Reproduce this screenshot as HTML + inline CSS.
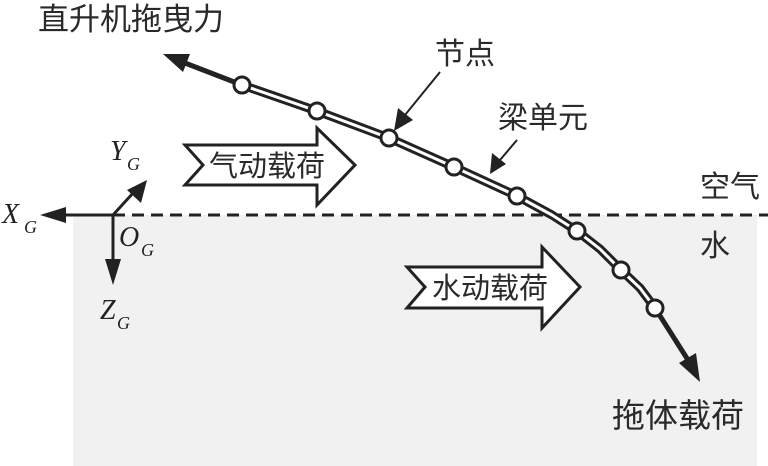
<!DOCTYPE html>
<html><head><meta charset="utf-8"><style>
html,body{margin:0;padding:0;background:#fff;}
svg{display:block;}
.cn{font-family:"Liberation Sans","Noto Sans CJK SC",sans-serif;fill:#2a2a2a;}
.it{font-family:"Liberation Serif",serif;font-style:italic;fill:#222;}
</style></head><body>
<svg width="768" height="466" viewBox="0 0 768 466" xmlns="http://www.w3.org/2000/svg">
<rect x="73" y="215" width="684" height="251" fill="#f1f1f1"/>
<line x1="113" y1="215" x2="768" y2="215" stroke="#222" stroke-width="3" stroke-dasharray="12,7"/>
<line x1="113" y1="215" x2="62" y2="215" stroke="#222" stroke-width="3"/>
<polygon points="40,215 66,207 66,223" fill="#222"/>
<line x1="113" y1="215" x2="134" y2="192" stroke="#222" stroke-width="3"/>
<polygon points="147,180 141,203 127,190" fill="#222"/>
<line x1="113" y1="215" x2="113" y2="262" stroke="#222" stroke-width="3"/>
<polygon points="113,285 105,259 121,259" fill="#222"/>
<text class="it" x="110" y="160" font-size="28">Y</text><text class="it" x="127" y="170" font-size="18">G</text>
<text class="it" x="2" y="223" font-size="28">X</text><text class="it" x="24" y="233" font-size="18">G</text>
<text class="it" x="119" y="246" font-size="28">O</text><text class="it" x="141" y="256" font-size="18">G</text>
<text class="it" x="100" y="319" font-size="28">Z</text><text class="it" x="117" y="329" font-size="18">G</text>
<polygon points="185,145 317,145 317,128 355,165 317,205 317,185 185,185 203,165" fill="#fff" stroke="#222" stroke-width="3"/>
<text class="cn" x="209" y="176" font-size="29">气动载荷</text>
<polygon points="407,267 542,267 542,247 580,287 542,328 542,308 407,308 425,287" fill="#fff" stroke="#222" stroke-width="3"/>
<text class="cn" x="432" y="298" font-size="29">水动载荷</text>
<polyline points="242,85 317,111 389,138 454,167 517,196 552,215 577,231 600,249 621,270 640,288 655,308" fill="none" stroke="#222" stroke-width="9" stroke-linejoin="round"/>
<polyline points="242,85 317,111 389,138 454,167 517,196 552,215 577,231 600,249 621,270 640,288 655,308" fill="none" stroke="#fff" stroke-width="3" stroke-linejoin="round"/>
<line x1="242" y1="85" x2="185" y2="63" stroke="#222" stroke-width="5"/>
<polygon points="163,54 190,54 183,72" fill="#222"/>
<line x1="655" y1="308" x2="688" y2="360" stroke="#222" stroke-width="5"/>
<polygon points="700,382 679,363 696,353" fill="#222"/>
<g fill="#fff" stroke="#222" stroke-width="3">
<circle cx="242" cy="85" r="8"/><circle cx="317" cy="111" r="8"/><circle cx="389" cy="138" r="8"/><circle cx="454" cy="167" r="8"/><circle cx="517" cy="196" r="8"/><circle cx="577" cy="231" r="8"/><circle cx="621" cy="270" r="8"/><circle cx="655" cy="308" r="8"/>
</g>
<line x1="440" y1="72" x2="405" y2="115" stroke="#222" stroke-width="2"/>
<polygon points="394,131 398,108 413,120" fill="#222"/>
<line x1="517" y1="140" x2="500" y2="160" stroke="#222" stroke-width="2"/>
<polygon points="490,174 492,153 506,164" fill="#222"/>
<text class="cn" x="38" y="30" font-size="31">直升机拖曳力</text>
<text class="cn" x="435" y="64" font-size="30">节点</text>
<text class="cn" x="498" y="128" font-size="30">梁单元</text>
<text class="cn" x="700" y="197" font-size="30">空气</text>
<text class="cn" x="700" y="256" font-size="30">水</text>
<text class="cn" x="612" y="427" font-size="33">拖体载荷</text>
</svg>
</body></html>
